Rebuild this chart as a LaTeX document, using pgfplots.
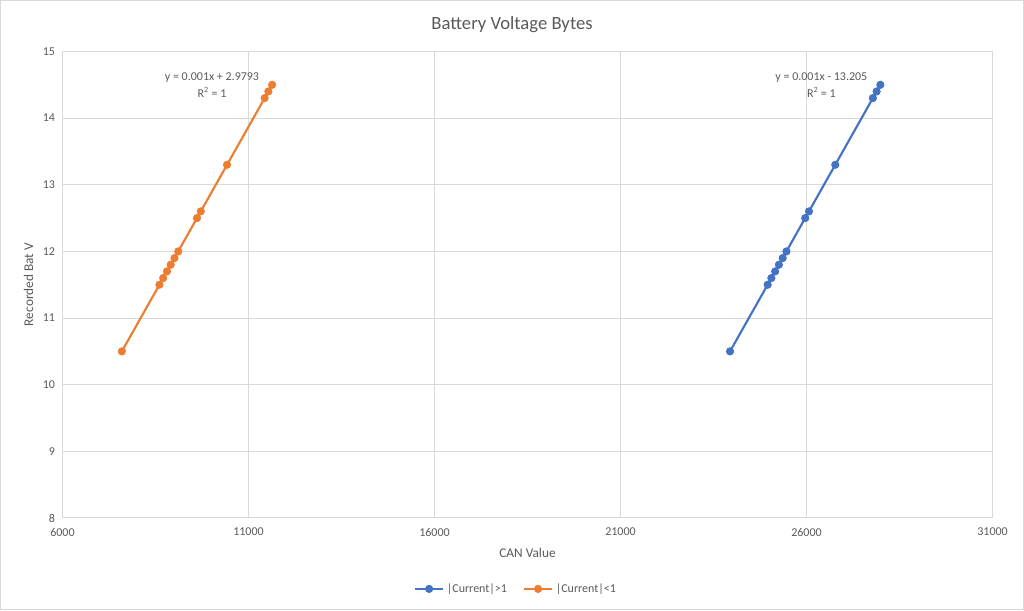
\documentclass[border=0pt]{standalone}
\usepackage{pgfplots}
\pgfplotsset{compat=1.18}
\usepackage{fontspec}
\setmainfont{Carlito}
\definecolor{xlblue}{HTML}{4472C4}
\definecolor{xlorange}{HTML}{ED7D31}
\definecolor{xlgrid}{HTML}{D9D9D9}
\definecolor{xltext}{HTML}{595959}
\begin{document}
\begin{tikzpicture}
\begin{axis}[
  scale only axis,
  width=698.25pt, height=350.25pt,
  xmin=6000, xmax=31000, ymin=8, ymax=15,
  xtick={6000,11000,16000,21000,26000,31000},
  ytick={8,9,10,11,12,13,14,15},
  scaled ticks=false,
  /pgf/number format/assume math mode=true,
  /pgf/number format/set thousands separator={},
  grid=major,
  major grid style={xlgrid, line width=0.75pt},
  axis line style={xlgrid, line width=0.75pt},
  tick style={draw=none},
  ticklabel style={font=\fontsize{9}{11}\selectfont, text=xltext},
  xticklabel style={yshift=-4pt},
  yticklabel style={xshift=-2pt},
  xlabel={CAN Value},
  ylabel={Recorded Bat V},
  label style={font=\fontsize{10}{12}\selectfont, text=xltext},
  xlabel style={at={(0.5,0)}, anchor=center, yshift=-26.25pt},
  ylabel style={at={(-0.0365,0.5)}, anchor=center},
  clip=false,
  legend columns=2,
  legend style={at={(0.488,-0.152)}, anchor=center, draw=none, fill=none,
    font=\fontsize{9}{11}\selectfont, text=xltext,
    /tikz/every even column/.append style={column sep=10pt}},
  legend image code/.code={\draw[mark repeat=2, mark phase=2] plot coordinates {(0cm,0cm) (0.37cm,0cm) (0.74cm,0cm)};},
]
\addplot[xlblue, line width=1.6pt, mark=*, mark size=2.8pt, mark options={fill=xlblue, draw=xlblue, line width=0.5pt}] coordinates {
(23944,10.5) (24955,11.5) (25056,11.6) (25157,11.7) (25258,11.8) (25359,11.9) (25460,12.0)
(25965,12.5) (26066,12.6) (26773,13.3) (27783,14.3) (27884,14.4) (27985,14.5)
};
\addlegendentry{|Current|>1}
\addplot[xlorange, line width=1.6pt, mark=*, mark size=2.8pt, mark options={fill=xlorange, draw=xlorange, line width=0.5pt}] coordinates {
(7597,10.5) (8607,11.5) (8708,11.6) (8809,11.7) (8910,11.8) (9011,11.9) (9112,12.0)
(9617,12.5) (9718,12.6) (10425,13.3) (11435,14.3) (11536,14.4) (11637,14.5)
};
\addlegendentry{|Current|<1}
\node[text=xltext, font=\fontsize{9}{11}\selectfont] at (axis cs:10020,14.615) {y = 0.001x + 2.9793};
\node[text=xltext, font=\fontsize{9}{11}\selectfont] at (axis cs:10020,14.385) {R\textsuperscript{2} = 1};
\node[text=xltext, font=\fontsize{9}{11}\selectfont] at (axis cs:26400,14.615) {y = 0.001x - 13.205};
\node[text=xltext, font=\fontsize{9}{11}\selectfont] at (axis cs:26400,14.385) {R\textsuperscript{2} = 1};
\node[text=xltext, font=\fontsize{14}{16}\selectfont] at ([yshift=20.25pt]rel axis cs:0.4834,1) {Battery Voltage Bytes};
\draw[xlgrid, line width=0.75pt] ([shift={(-46.5pt,-69pt)}]rel axis cs:0,0) rectangle ([shift={(721.5pt,388.5pt)}]rel axis cs:0,0);
\end{axis}
\end{tikzpicture}
\end{document}
